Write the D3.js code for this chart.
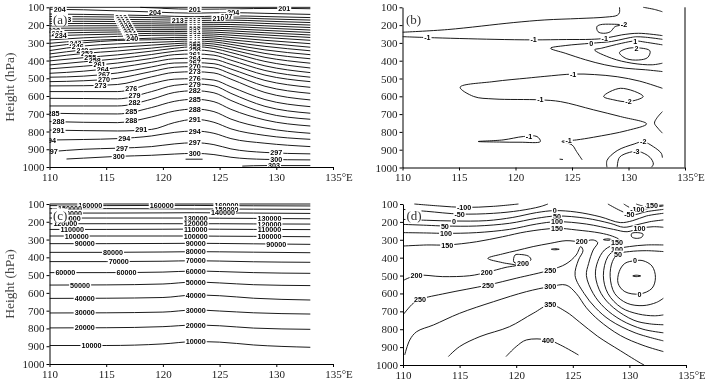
<!DOCTYPE html>
<html>
<head>
<meta charset="utf-8">
<script src="https://cdn.jsdelivr.net/npm/d3@7"></script>
<style>
  body { margin: 0; background: #fff; }
  svg { display: block; filter: grayscale(100%); }
  .axis text { font-family: "Liberation Serif", "Times New Roman", serif; font-size: 11px; fill: #1a1a1a; }
  .axis path, .axis line { stroke: #000; stroke-width: 1; }
  .clab { font-family: "Liberation Sans", Arial, sans-serif; font-size: 7.2px; font-weight: bold; fill: #000; }
  .ytitle { font-family: "Liberation Serif", "Times New Roman", serif; font-size: 13.5px; fill: #444; }
  .plab { font-family: "Liberation Serif", "Times New Roman", serif; font-size: 13px; fill: #333; }
</style>
</head>
<body>
<svg id="fig" width="705" height="383"></svg>
<script>
const lonTicks = [110, 115, 120, 125, 130, 135];
const pTicks = [100, 200, 300, 400, 500, 600, 700, 800, 900, 1000];

// (a) potential temperature, pressure of each isoline at these longitudes
const aLons = [110, 113, 116, 119, 121, 122.8, 124.5, 126, 129, 133];
const aLevels = [204, 207, 210, 213, 216, 219, 222, 225, 228, 231, 234, 237, 240, 243, 246, 249,
  252, 255, 258, 261, 264, 267, 270, 273, 276, 279, 282, 285, 288, 291, 294, 297];
const aPres = [
  [111, 114, 120, 126, 131, 133, 131, 130, 134, 140],
  [138, 140, 143, 147, 151, 153, 150, 148, 152, 158],
  [152, 153, 155, 158, 161, 163, 161, 160, 165, 172],
  [166, 166, 168, 170, 172, 175, 173, 172, 178, 186],
  [179, 179, 180, 182, 184, 185, 185, 185, 191, 200],
  [192, 191, 192, 193, 195, 196, 196, 197, 204, 214],
  [205, 204, 204, 204, 205, 206, 207, 209, 217, 228],
  [218, 217, 216, 215, 216, 217, 218, 221, 230, 242],
  [231, 229, 228, 226, 226, 227, 229, 233, 243, 256],
  [246, 242, 239, 236, 236, 238, 240, 245, 256, 270],
  [261, 255, 251, 247, 246, 248, 251, 257, 270, 286],
  [284, 272, 264, 258, 257, 259, 262, 270, 286, 305],
  [303, 288, 281, 274, 270, 269, 273, 283, 302, 325],
  [322, 300, 287, 283, 281, 280, 284, 296, 320, 345],
  [344, 318, 306, 298, 293, 290, 295, 309, 340, 367],
  [363, 340, 326, 313, 305, 301, 307, 323, 360, 390],
  [382, 360, 346, 330, 317, 311, 319, 338, 382, 415],
  [402, 384, 368, 347, 331, 322, 332, 355, 405, 442],
  [425, 407, 390, 366, 348, 340, 350, 375, 430, 468],
  [447, 432, 414, 388, 367, 363, 370, 398, 456, 494],
  [472, 460, 440, 410, 390, 387, 393, 422, 482, 519],
  [494, 488, 470, 436, 414, 412, 418, 448, 512, 551],
  [519, 514, 500, 462, 438, 434, 441, 475, 545, 585],
  [543, 542, 535, 492, 467, 463, 470, 505, 580, 622],
  [575, 575, 575, 530, 505, 502, 510, 548, 620, 660],
  [613, 614, 616, 575, 540, 532, 542, 585, 658, 697],
  [656, 656, 656, 618, 580, 570, 582, 625, 695, 731],
  [697, 700, 701, 665, 630, 618, 632, 675, 735, 769],
  [744, 748, 750, 718, 685, 673, 688, 730, 780, 810],
  [792, 795, 797, 788, 750, 731, 748, 785, 822, 844],
  [848, 845, 840, 825, 805, 797, 810, 840, 866, 885],
  [914, 900, 894, 885, 870, 863, 874, 898, 918, 926]
];
const aExtra = [
  [201, [[118, 100], [120, 106], [122.8, 111], [125, 110], [128, 107], [130.7, 106], [133, 108]]],
  [300, [[111.5, 955], [113, 950], [116, 940], [119, 934], [121, 927], [122.8, 923], [124.5, 930], [126, 945], [129, 957], [133, 960]]],
  [303, [[127, 995], [129, 992], [133, 992]]],
  [303, [[122, 956], [123.5, 956]]],
  [198, [[110, 100], [133, 100]]]
];
const aLabels = [
  [201, 122.8], [201, 130.7], [204, 110.9], [204, 119.3], [204, 126.2], [207, 125.6], [210, 124.9], [213, 121.3],
  [213, 111.4], [228, 110.4], [231, 110.7], [234, 111.0],
  [210, 116.3], [213, 116.4], [216, 116.5], [219, 116.6], [222, 116.7], [225, 116.8], [228, 116.9],
  [231, 117.0], [234, 117.1], [237, 117.2], [240, 117.3],
  [243, 112.3], [246, 112.5], [249, 112.9], [252, 113.3], [255, 113.6], [258, 114.0], [261, 114.4],
  [264, 114.7], [267, 114.8], [270, 114.8], [273, 114.5],
  [276, 117.2], [279, 117.5], [282, 117.5], [285, 117.2], [288, 117.2], [291, 118.1], [294, 116.6],
  [297, 116.4], [300, 116.1],
  [285, 110.35], [288, 110.8], [291, 110.8], [294, 110.05], [297, 110.2],
  [297, 130], [300, 130], [303, 129.8],
  [213, 122.8], [216, 122.8], [219, 122.8], [222, 122.8], [225, 122.8], [228, 122.8], [231, 122.8],
  [234, 122.8], [237, 122.8], [240, 122.8], [243, 122.8], [246, 122.8], [249, 122.8], [252, 122.8],
  [255, 122.8], [258, 122.8], [261, 122.8], [264, 122.8], [267, 122.8], [270, 122.8], [273, 122.8],
  [276, 122.8], [279, 122.8], [282, 122.8], [285, 122.8], [288, 122.8], [291, 122.8], [294, 122.8],
  [297, 122.8], [300, 122.8]
];

// (b) contour lines [value, [[lon, hPa], ...]]
const bLines = [
  [null, [[110, 240], [114, 225], [119.8, 186], [122.6, 171], [125.6, 163], [128, 155], [129, 145], [129.2, 130], [129.2, 100]]],
  [null, [[131.3, 100], [132.3, 112], [133, 125]]],
  [-1, [[110, 265], [112.2, 270], [118.1, 280], [121.6, 283], [124.5, 281], [126.7, 280], [127.9, 274], [129.4, 255], [130.9, 246], [133, 259]]],
  [-2, [[127.2, 209], [127.3, 237], [127.8, 246], [128.4, 237], [128.8, 209], [129.4, 199], [128.5, 195], [127.5, 198], [127.2, 209]]],
  [0, [[133, 280], [131.5, 268], [130.6, 266], [129.7, 276], [128.5, 292], [126.7, 302], [124.4, 315], [123.1, 330], [124.4, 358], [126.2, 395], [127.9, 423], [129.7, 442], [131.5, 451], [133, 461]]],
  [1, [[133, 311], [131.5, 296], [130.6, 289], [129.4, 302], [127.6, 330], [127.0, 339], [128.5, 386], [130.3, 414], [132.1, 423], [133, 414]]],
  [2, [[129.2, 355], [129.8, 388], [130.9, 396], [131.7, 382], [131.9, 345], [130.9, 328], [129.8, 333], [129.2, 355]]],
  [-1, [[133, 555], [131, 515], [129, 490], [127, 478], [125.1, 475], [122.6, 488], [121.0, 498], [118.1, 517], [115.1, 549], [116.3, 601], [118.1, 615], [122.2, 620], [124, 630], [126.9, 676], [129.3, 714], [131.6, 755], [129.9, 792], [126.9, 830], [125.4, 845], [124.1, 854], [125.0, 873], [125.4, 910], [125.9, 957]]],
  [-2, [[127.8, 601], [129.3, 555], [131.3, 601], [130, 630], [128.7, 620], [127.8, 601]]],
  [-2, [[133, 686], [132.5, 723], [132.3, 751], [132.6, 779], [133, 807]]],
  [-1, [[116.7, 854], [118.9, 845], [120.7, 826], [121.9, 826], [122.2, 854], [120.4, 858], [118.6, 857], [116.7, 854]]],
  [-2, [[128.1, 1000], [128.1, 960], [129.0, 905], [130.5, 868], [131.3, 855], [132.2, 883], [132.9, 920], [133, 945]]],
  [-3, [[129.0, 1000], [129.2, 943], [130.1, 915], [130.9, 910], [131.9, 943], [132.2, 981], [132.0, 1000]]],
  [null, [[123.9, 953], [124.2, 955]]]
];
const bLabels = [
  ['-1', 112.2, 270], ['-1', 121.6, 283], ['-1', 127.9, 274], ['-2', 129.6, 198], ['0', 126.7, 302],
  ['1', 130.6, 289], ['2', 130.7, 330], ['-1', 125.1, 475], ['-1', 122.2, 620], ['-1', 124.7, 849],
  ['-1', 121.2, 824], ['-2', 130, 630], ['-2', 131.3, 855], ['-3', 130.7, 910]
];

// (c) geopotential, pressure of each isoline at these longitudes
const cLons = [110, 115, 120, 122.8, 125, 128, 133];
const cLevels = [10000, 20000, 30000, 40000, 50000, 60000, 70000, 80000, 90000, 100000,
  110000, 120000, 130000, 140000, 150000, 160000];
const cPres = [
  [896, 896, 887, 874, 877, 893, 906],
  [797, 796, 790, 781, 785, 798, 805],
  [713, 712, 708, 696, 702, 712, 719],
  [631, 630, 626, 612, 616, 630, 640],
  [556, 555, 550, 539, 544, 554, 559],
  [486, 486, 483, 477, 480, 486, 490],
  [424, 424, 422, 419, 421, 425, 428],
  [372, 372, 370, 368, 369, 371, 374],
  [323, 323, 322, 321, 322, 324, 327],
  [280, 280, 280, 280, 281, 282, 284],
  [243, 243, 242, 241, 242, 243, 244],
  [211, 211, 211, 211, 211, 212, 213],
  [179, 179, 179, 179, 180, 181, 183],
  [151, 151, 150, 149, 150, 151, 153],
  [126, 126, 127, 128, 128, 129, 130],
  [109, 109, 108, 108, 109, 110, 111]
];
const cExtra = [[170000, [[110, 100], [133, 100]]]];
const cLabels = [
  [160000, 113.6], [160000, 119.9], [160000, 125.6], [150000, 125.6], [140000, 125.3],
  [150000, 111.8], [140000, 111.8], [130000, 111.7], [120000, 111.4], [110000, 112.0], [100000, 112.4],
  [90000, 113.1], [80000, 115.6], [70000, 116.1], [60000, 111.4], [60000, 116.8], [50000, 112.7],
  [40000, 113.1], [30000, 113.1], [20000, 113.1], [10000, 113.7],
  [130000, 122.9], [120000, 122.9], [110000, 122.9], [100000, 122.9], [90000, 122.9], [80000, 122.9],
  [70000, 122.9], [60000, 122.9], [50000, 122.9], [40000, 122.9], [30000, 122.9], [20000, 122.9], [10000, 122.9],
  [130000, 129.4], [120000, 129.4], [110000, 129.4], [100000, 129.4], [90000, 130.0]
];

// (d) contour lines [value, [[lon, hPa], ...]]
const dLines = [
  [-100, [[111.0, 100], [113.2, 111], [115.4, 119], [118.0, 113], [120.2, 100]]],
  [-50, [[110, 130], [112.1, 141], [115.0, 156], [118.0, 152], [120.3, 137], [122.1, 115], [122.8, 100]]],
  [0, [[110, 186], [112.1, 191], [114.5, 195], [117.4, 193], [119.7, 175], [121.8, 148], [123.4, 137], [125.3, 145], [127.4, 171], [129.2, 204], [130.3, 193], [131.5, 167], [133, 152]]],
  [50, [[110, 214], [112.1, 219], [113.7, 223], [116.5, 223], [119.4, 208], [121.8, 180], [123.6, 167], [126.2, 180], [128.3, 208], [129.5, 230], [130.6, 217], [131.8, 199], [133, 189]]],
  [100, [[110, 260], [112.1, 262], [113.8, 264], [116.5, 260], [119.4, 242], [121.8, 212], [123.6, 199], [126.2, 212], [128.6, 242], [129.8, 255], [130.9, 236], [132.1, 227], [133, 230]]],
  [-50, [[128.1, 100], [129.2, 137], [130.2, 161], [131.5, 143], [133, 130]]],
  [-100, [[129.5, 100], [130.2, 124], [131.2, 130], [132.1, 119], [133, 111]]],
  [-150, [[130.6, 100], [131.2, 111], [132.1, 109], [133, 106]]],
  [150, [[110, 335], [112.1, 329], [113.9, 329], [116.5, 311], [118.8, 283], [120.9, 255], [123.6, 236], [125.3, 245], [127.4, 262], [128.5, 280], [129.1, 300], [128.9, 316], [127.8, 357], [127.2, 422], [127.0, 500], [127.5, 600], [128.6, 680], [130.4, 750], [131.8, 770], [133, 775]]],
  [100, [[133, 329], [131.5, 329], [130, 338], [128.9, 353], [128.1, 394], [127.7, 500], [128.1, 600], [129.3, 680], [130.8, 715], [132.2, 725], [133, 720]]],
  [50, [[133, 366], [131.5, 361], [130, 366], [129, 379], [128.5, 422], [128.3, 506], [128.7, 600], [129.8, 655], [131.2, 668], [132.4, 650], [133, 627]]],
  [0, [[130.5, 417], [129.6, 432], [129.1, 478], [129, 543], [129.6, 590], [130.9, 603], [132, 571], [132.3, 510], [132, 447], [131.2, 417], [130.5, 417]]],
  [null, [[130.3, 502], [130.6, 498], [131.0, 502], [130.6, 506], [130.3, 502]]],
  [null, [[130.2, 265], [130.2, 283], [130.6, 292], [131.1, 285], [131.2, 268], [130.7, 260], [130.2, 265]]],
  [200, [[110, 528], [111.2, 499], [113.5, 506], [115.9, 501], [117.4, 482], [119.1, 454], [120.0, 443], [118.8, 428], [117.5, 404], [118.8, 379], [120.0, 361], [121.5, 338], [123, 320], [124.4, 305], [125.8, 311], [126.8, 301], [127.2, 316], [126.8, 357], [126.4, 432], [126.2, 500], [126.8, 600], [127.8, 680], [129.3, 750], [131.2, 800], [133, 820]]],
  [200, [[127.7, 299], [128.1, 295], [128.4, 299], [128.1, 303], [127.7, 299]]],
  [200, [[119.9, 385], [119.8, 425], [120.6, 430], [121.3, 412], [121.1, 392], [120.3, 382], [119.9, 385]]],
  [null, [[123.1, 353], [123.4, 350], [123.8, 353], [123.4, 356], [123.1, 353]]],
  [250, [[110, 720], [110.9, 655], [111.5, 633], [113.8, 599], [117.5, 553], [120, 515], [123, 469], [124.4, 435], [125.3, 385], [125.7, 338], [125.9, 361], [125.5, 413], [125.2, 500], [126.0, 600], [127.0, 680], [128.3, 750], [130.5, 820], [133, 865]]],
  [300, [[110.15, 944], [110.6, 860], [111.2, 814], [112.7, 776], [115, 711], [118, 646], [120.9, 590], [123, 562], [124.4, 553], [125.3, 600], [126.2, 680], [127.3, 750], [129.2, 835], [131.2, 890], [133, 925]]],
  [350, [[114, 953], [115, 897], [116.8, 841], [119.4, 786], [121.5, 711], [123, 664], [124.4, 702], [125.6, 760], [127.2, 840], [129.2, 920], [131, 990], [131.3, 1000]]],
  [400, [[119.1, 953], [120, 897], [120.9, 860], [122.8, 860], [123.9, 888], [125.5, 944]]]
];
const dLabels = [
  ['-100', 115.4, 119], ['-50', 115.0, 156], ['0', 114.5, 195], ['50', 113.7, 223], ['100', 113.8, 264], ['150', 113.9, 329],
  ['0', 123.4, 137], ['50', 123.6, 167], ['100', 123.6, 199], ['150', 123.6, 236],
  ['-150', 131.9, 109], ['-100', 130.7, 128], ['-50', 130.0, 157], ['100', 130.9, 236],
  ['150', 128.9, 316], ['100', 128.9, 353], ['50', 129.0, 379], ['0', 130.5, 417], ['0', 130.9, 603],
  ['200', 125.8, 311], ['200', 111.2, 499], ['200', 117.4, 482], ['200', 120.6, 430],
  ['250', 111.5, 633], ['250', 117.5, 553], ['250', 123, 469],
  ['300', 123, 562], ['350', 123, 664], ['400', 122.8, 860]
];

const svg = d3.select('#fig');
const defs = svg.append('defs');

function setupPanel(key, box, yTitle) {
  const x = d3.scaleLinear().domain([110, 135]).range([box.left, box.right]);
  const y = d3.scaleLinear().domain([100, 1000]).range([box.top, box.bottom]);
  defs.append('clipPath').attr('id', 'clip-' + key)
    .append('rect')
    .attr('x', box.left).attr('y', box.top - 1)
    .attr('width', box.right - box.left).attr('height', box.bottom - box.top + 1);
  const g = svg.append('g');
  const plot = g.append('g').attr('clip-path', `url(#clip-${key})`);
  return { key, x, y, g, plot, box, yTitle };
}

function finishPanel(p, rightLine) {
  const { g, x, y, box } = p;
  g.append('g')
    .attr('class', 'axis')
    .attr('transform', `translate(${box.left},0)`)
    .call(d3.axisLeft(y).tickValues(pTicks).tickSize(3).tickSizeOuter(0).tickPadding(2)
      .tickFormat(d => String(d)));

  const xa = g.append('g')
    .attr('class', 'axis')
    .attr('transform', `translate(0,${box.bottom})`)
    .call(d3.axisBottom(x).tickValues(lonTicks).tickSize(3).tickSizeOuter(0).tickPadding(3)
      .tickFormat(d => d === 135 ? '135°E' : String(d)));
  xa.selectAll('.tick text').filter(d => d === 135)
    .attr('text-anchor', 'start').attr('x', -8.3);

  if (rightLine) {
    g.append('line')
      .attr('x1', x(135)).attr('x2', x(135))
      .attr('y1', y(100)).attr('y2', y(1000))
      .attr('stroke', '#000');
  }

  if (p.yTitle) {
    g.append('text')
      .attr('class', 'ytitle')
      .attr('transform', `translate(14,${(box.top + box.bottom) / 2}) rotate(-90)`)
      .attr('text-anchor', 'middle')
      .text('Height (hPa)');
  }

  g.append('rect')
    .attr('x', box.left + 2.5).attr('y', box.top + 4.5)
    .attr('width', 16).attr('height', 14)
    .attr('fill', '#fff');
  g.append('text')
    .attr('class', 'plab')
    .attr('x', box.left + 3.5).attr('y', box.top + 16.3)
    .text(`(${p.key})`);
}

function interp(pts, lon) {
  if (lon <= pts[0][0]) return pts[0][1];
  for (let i = 0; i < pts.length - 1; i++) {
    const [x0, y0] = pts[i], [x1, y1] = pts[i + 1];
    if (lon >= x0 && lon <= x1) return y0 + (y1 - y0) * (lon - x0) / (x1 - x0);
  }
  return pts[pts.length - 1][1];
}

function drawLines(p, lines, openCurve) {
  lines.forEach(([v, pts]) => {
    const first = pts[0], last = pts[pts.length - 1];
    const closed = pts.length > 3 && first[0] === last[0] && first[1] === last[1];
    const gen = d3.line()
      .x(d => p.x(d[0]))
      .y(d => p.y(d[1]))
      .curve(closed ? d3.curveCatmullRomClosed.alpha(0.5) : openCurve);
    p.plot.append('path')
      .attr('d', gen(closed ? pts.slice(0, -1) : pts))
      .attr('fill', 'none')
      .attr('stroke', '#000')
      .attr('stroke-width', 0.9);
  });
}

function drawLabel(p, text, lon, pres) {
  const cx = p.x(lon), cy = p.y(pres);
  const lg = p.plot.append('g');
  const r = lg.append('rect');
  const t = lg.append('text')
    .attr('class', 'clab')
    .attr('x', cx).attr('y', cy)
    .attr('text-anchor', 'middle')
    .attr('dy', '0.36em')
    .text(text);
  const w = t.node().getComputedTextLength();
  r.attr('x', cx - w / 2 - 1).attr('y', cy - 3.2)
    .attr('width', w + 2).attr('height', 6.4)
    .attr('fill', '#fff');
}

function tableLines(lons, levels, pres, extra) {
  const rows = levels.map((v, i) => [v, lons.map((lon, j) => [lon, pres[i][j]])]);
  return rows.concat(extra);
}

// (a)
const pa = setupPanel('a', { left: 49.5, right: 333, top: 7.3, bottom: 167 }, true);
const aAll = tableLines(aLons, aLevels, aPres, aExtra);
drawLines(pa, aAll, d3.curveMonotoneX);
aLabels.forEach(([v, lon]) => {
  const line = aAll.find(l => l[0] === v);
  drawLabel(pa, String(v), lon, interp(line[1], lon));
});
finishPanel(pa, false);

// (b)
const pb = setupPanel('b', { left: 402.5, right: 685, top: 7.3, bottom: 167.5 }, false);
drawLines(pb, bLines, d3.curveCatmullRom.alpha(0.5));
bLabels.forEach(([t, lon, pres]) => drawLabel(pb, t, lon, pres));
finishPanel(pb, true);

// (c)
const pc = setupPanel('c', { left: 49.5, right: 333, top: 204, bottom: 364 }, true);
const cAll = tableLines(cLons, cLevels, cPres, cExtra);
drawLines(pc, cAll, d3.curveMonotoneX);
cLabels.forEach(([v, lon]) => {
  const line = cAll.find(l => l[0] === v);
  drawLabel(pc, String(v), lon, interp(line[1], lon));
});
finishPanel(pc, false);

// (d)
const pd = setupPanel('d', { left: 403, right: 686, top: 204, bottom: 365 }, false);
drawLines(pd, dLines, d3.curveCatmullRom.alpha(0.5));
dLabels.forEach(([t, lon, pres]) => drawLabel(pd, t, lon, pres));
finishPanel(pd, false);
</script>
</body>
</html>
